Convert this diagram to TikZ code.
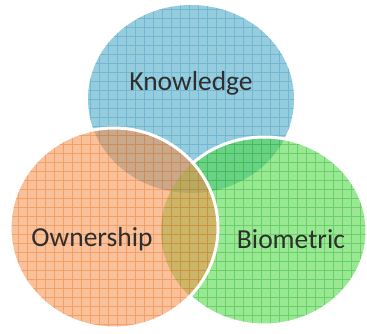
\documentclass[tikz,border=0pt]{standalone}
\usepackage{fontspec}
\setmainfont{Carlito}
\definecolor{knowblue}{RGB}{150,205,222}
\definecolor{knowgrid}{RGB}{60,150,195}
\definecolor{ownorange}{RGB}{245,140,70}
\definecolor{owngrid}{RGB}{235,110,30}
\definecolor{biogreen}{RGB}{70,215,60}
\definecolor{biogrid}{RGB}{40,170,40}

\begin{document}
\begin{tikzpicture}[x=1pt, y=1pt,
  setlabel/.style = {font=\fontsize{27.5}{30}\selectfont, text=black!82},
  gridlines/.style = {line width=0.8pt, opacity=0.4},
  rim/.style = {draw=white, line width=3pt}]
	\useasboundingbox (0,0) rectangle (367,333);
	\coordinate (know) at (191,234);
	\coordinate (own) at (114,105);
	\coordinate (bio) at (264,102);
	% knowledge set
	\fill[knowblue] (know) ellipse [x radius=103, y radius=94];
	\begin{scope}
		\clip (know) ellipse [x radius=103, y radius=94];
		\draw[knowgrid, gridlines, step=9pt] (0,0) grid (367,333);
	\end{scope}
	% biometric set
	\fill[biogreen, fill opacity=0.55] (bio) ellipse [x radius=103, y radius=94];
	\begin{scope}
		\clip (bio) ellipse [x radius=103, y radius=94];
		\draw[biogrid, gridlines, step=9pt] (0,0) grid (367,333);
	\end{scope}
	\begin{scope}[even odd rule]
		\clip (-5,-5) rectangle (372,338) (own) ellipse [x radius=104, y radius=100];
		\draw[rim] (bio) ellipse [x radius=103, y radius=94];
	\end{scope}
	% ownership set
	\fill[ownorange, fill opacity=0.55] (own) ellipse [x radius=104, y radius=100];
	\begin{scope}
		\clip (own) ellipse [x radius=104, y radius=100];
		\draw[owngrid, gridlines, step=9pt] (0,0) grid (367,333);
	\end{scope}
	\draw[rim] (own) ellipse [x radius=104, y radius=100];
	% labels
	\node[setlabel] (knowtext) at (191,250) {Knowledge};
	\node[setlabel] (owntext) at (92,94) {Ownership};
	\node[setlabel] (biotext) at (291,94) {Biometric};
\end{tikzpicture}
\end{document}
